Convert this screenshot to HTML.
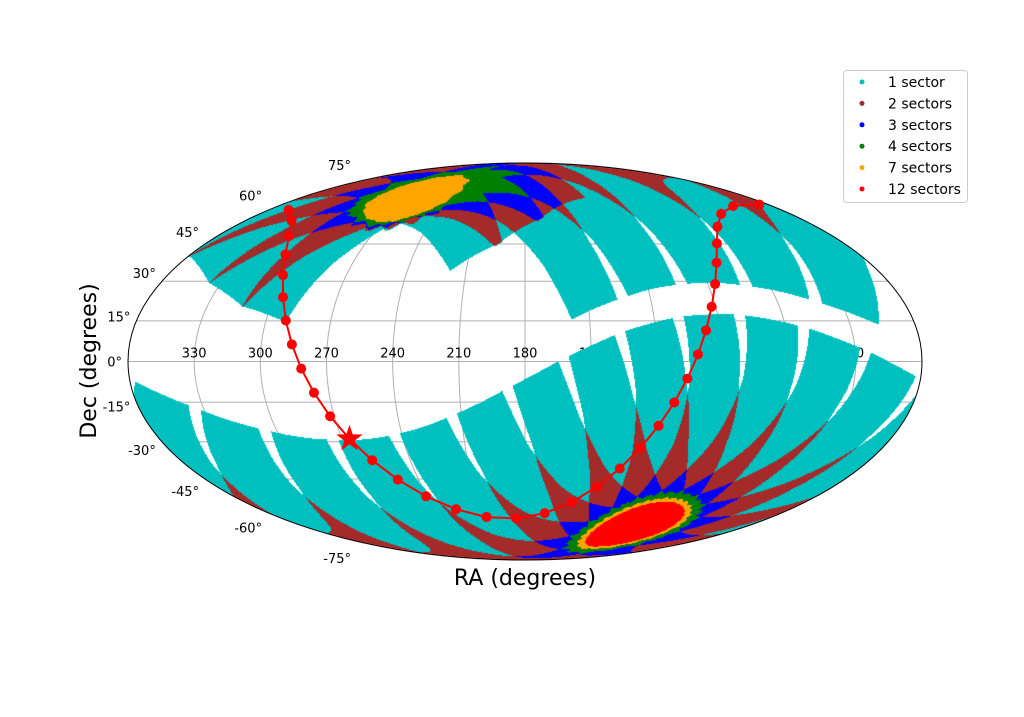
<!DOCTYPE html>
<html><head><meta charset="utf-8">
<style>
html,body{margin:0;padding:0;background:#fff;}
#wrap{position:relative;width:1024px;height:717px;overflow:hidden;font-family:"DejaVu Sans","Liberation Sans",sans-serif;}
svg,canvas{position:absolute;left:0;top:0;}
</style></head>
<body>
<div id="wrap">
<svg id="under" width="1024" height="717"></svg>
<canvas id="cv" width="1024" height="717"></canvas>
<svg id="over" width="1024" height="717"></svg>
</div>
<script>
// ---- data ----
const southSectorLon = [315.8,343.5,11.2,38.9,66.6,94.3,122.0,149.7,177.4,205.1,232.8,260.5,288.2];
const northSectorLon = [309.0,336.7,4.4,32.1,59.8,87.5,115.2,142.9];
const northShifted = [1,1,1,0,0,0,0,0];
const galLon = [120,130,140,150,160,170,180,190,200,210,220,230,240,250,260,270,280,290,300,310,320,330,340,350,0,10,20,30,40,50,60,70,80,90,100,110];
const raTicks = [330,300,270,240,210,180,150,120,90,60,30];
const decTicks = [-75,-60,-45,-30,-15,0,15,30,45,60,75];
const legendLabels = ["1 sector","2 sectors","3 sectors","4 sectors","7 sectors","12 sectors"];
const legendColors = ["#00bfbf","#a52a2a","#0000ff","#008000","#ffa500","#ff0000"];
const starRA = 266.4, starDec = -28.9;

const cx=525, cy=361.5, A=397, B=198.5;
const D=Math.PI/180;
function theta(phi){ if(Math.abs(phi)>=Math.PI/2-1e-9) return Math.sign(phi)*Math.PI/2;
  let t=phi; for(let i=0;i<30;i++){ const f=2*t+Math.sin(2*t)-Math.PI*Math.sin(phi); t-=f/(2+2*Math.cos(2*t)); } return t; }
function proj(ra,dec){ let lam=180-ra; while(lam>180)lam-=360; while(lam<-180)lam+=360;
  const t=theta(dec*D); return [cx+A*(lam/180)*Math.cos(t), cy-B*Math.sin(t)]; }
const NS='http://www.w3.org/2000/svg';
function mk(parent,tag,attrs,name){ const e=document.createElementNS(NS,tag); for(const k in attrs)e.setAttribute(k,attrs[k]);
  
  
  parent.appendChild(e); return e; }
const under=document.getElementById('under'), over=document.getElementById('over');

// grid
for(const d of decTicks){ const p1=proj(359.999,d), p2=proj(0.001,d);
  mk(under,'line',{x1:p1[0],y1:p1[1],x2:p2[0],y2:p2[1],stroke:'#b0b0b0','stroke-width':1},'parallel-gridline'); }
for(const r of raTicks){ let pts=[]; for(let d=-90;d<=90;d+=2){ const p=proj(r,d); pts.push(p[0].toFixed(1)+','+p[1].toFixed(1)); }
  mk(under,'polyline',{points:pts.join(' '),fill:'none',stroke:'#b0b0b0','stroke-width':1},'meridian-gridline'); }
{ const p1=proj(180,-90), p2=proj(180,90); mk(under,'line',{x1:p1[0],y1:p1[1],x2:p2[0],y2:p2[1],stroke:'#b0b0b0','stroke-width':1},'meridian-gridline'); }
for(const r of raTicks){ const p=proj(r,0); const t=mk(under,'text',{x:p[0],y:p[1]-4,'text-anchor':'middle','font-size':13,fill:'#000'},'ra-tick-label'); t.textContent=r; }

// coverage
const eps=23.44*D, TX=Math.tan(11.5*D), TY=Math.tan(12*D);
const cams=[];
function addSector(lon,south,base){ for(let k=0;k<4;k++){ const be=(base+24*k)*D, l=lon*D, s=south?-1:1;
  cams.push({b:[Math.cos(be)*Math.cos(l),Math.cos(be)*Math.sin(l),s*Math.sin(be)],
    e1:[-Math.sin(l),Math.cos(l),0],
    e2:[-Math.sin(be)*Math.cos(l),-Math.sin(be)*Math.sin(l),s*Math.cos(be)]}); } }
southSectorLon.forEach(l=>addSector(l,true,18));
northSectorLon.forEach((l,i)=>addSector(l,false,northShifted[i]?49:18));
const cv=document.getElementById('cv'), ctx=cv.getContext('2d');
const img=ctx.createImageData(1024,717);
const rgb=[[0,191,191],[165,42,42],[0,0,255],[0,128,0],[255,165,0],[255,0,0]];
for(let py=160;py<565;py++){ const v=(cy-py-0.5)/B; if(Math.abs(v)>=1)continue;
  const t=Math.asin(v), ct=Math.cos(t), sphi=(2*t+Math.sin(2*t))/Math.PI, dec=Math.asin(sphi);
  for(let px=125;px<926;px++){ const u=(px+0.5-cx)/A; const lam=u/ct; if(Math.abs(lam)>1)continue;
    const ra=(180-lam*180)*D;
    const x=Math.cos(dec)*Math.cos(ra), y=Math.cos(dec)*Math.sin(ra), z=Math.sin(dec);
    const xe=x, ye=y*Math.cos(eps)+z*Math.sin(eps), ze=-y*Math.sin(eps)+z*Math.cos(eps);
    let n=0;
    for(const c of cams){ const d=xe*c.b[0]+ye*c.b[1]+ze*c.b[2]; if(d<=0.5)continue;
      const X=(xe*c.e1[0]+ye*c.e1[1]+ze*c.e1[2])/d; if(Math.abs(X)>TX)continue;
      const Y=(xe*c.e2[0]+ye*c.e2[1]+ze*c.e2[2])/d; if(Math.abs(Y)>TY)continue; n++; }
    if(!n)continue;
    const ci = n>=12?5: n>=7?4: n>=4?3: n-1;
    const o=(py*1024+px)*4; img.data[o]=rgb[ci][0]; img.data[o+1]=rgb[ci][1]; img.data[o+2]=rgb[ci][2]; img.data[o+3]=255; } }
ctx.putImageData(img,0,0);

// border
mk(over,'ellipse',{cx:cx,cy:cy,rx:A,ry:B,fill:'none',stroke:'#000','stroke-width':1},'projection-border');

// galactic plane
function gal2eq(l){ const dG=27.128*D, aG=192.859*D, lN=122.932*D, L=l*D;
  const sd=Math.cos(dG)*Math.cos(lN-L); const dec=Math.asin(sd);
  const ra=aG+Math.atan2(Math.sin(lN-L), -Math.sin(dG)*Math.cos(lN-L));
  return [((ra/D)%360+360)%360, dec/D]; }
const gp=galLon.map(l=>{ const e=gal2eq(l); return proj(e[0],e[1]); });
let seg=[gp[0]]; const segs=[seg];
for(let i=1;i<gp.length;i++){ if(Math.abs(gp[i][0]-gp[i-1][0])>250){ seg=[]; segs.push(seg);} seg.push(gp[i]); }
for(const s of segs) mk(over,'polyline',{points:s.map(p=>p[0].toFixed(1)+','+p[1].toFixed(1)).join(' '),fill:'none',stroke:'#ff0000','stroke-width':2},'galactic-plane-line');
for(const p of gp) mk(over,'circle',{cx:p[0],cy:p[1],r:5,fill:'#ff0000'},'galactic-plane-point');
{ const p=proj(starRA,starDec); let pts=[]; for(let i=0;i<10;i++){ const r=i%2?5.5:14, an=-Math.PI/2+i*Math.PI/5; pts.push((p[0]+r*Math.cos(an)).toFixed(1)+','+(p[1]+r*Math.sin(an)).toFixed(1)); }
  mk(over,'polygon',{points:pts.join(' '),fill:'#ff0000'},'galactic-center-star'); }

// dec labels
for(const d of decTicks){ const t=theta(d*D); const ex=cx-A*Math.cos(t), ey=cy-B*Math.sin(t);
  const tx=mk(over,'text',{x:ex-6,y:ey-17*Math.sin(d*D)+5,'text-anchor':'end','font-size':13,fill:'#000'},'dec-tick-label'); tx.textContent=d+'°'; }
// axis titles
{ const t=mk(over,'text',{x:525,y:585,'text-anchor':'middle','font-size':22,fill:'#000'},'x-axis-title'); t.textContent='RA (degrees)';
  const t2=mk(over,'text',{x:0,y:0,'text-anchor':'middle','font-size':22,fill:'#000',transform:'translate(96,361) rotate(-90)'},'y-axis-title'); t2.textContent='Dec (degrees)'; }
// legend
{ const g=mk(over,'g',{},'legend');
  mk(g,'rect',{x:843.5,y:70.5,width:124,height:132,rx:3,fill:'#fff',stroke:'#cccccc','stroke-width':1},'legend-frame');
  legendLabels.forEach((lab,i)=>{ const y=82+i*21.4;
    mk(g,'circle',{cx:862,cy:y,r:2.5,fill:legendColors[i]},'legend-marker');
    const t=mk(g,'text',{x:888,y:y+5,'font-size':14,fill:'#000'},'legend-entry'); t.textContent=lab; }); }
</script>
</body></html>
